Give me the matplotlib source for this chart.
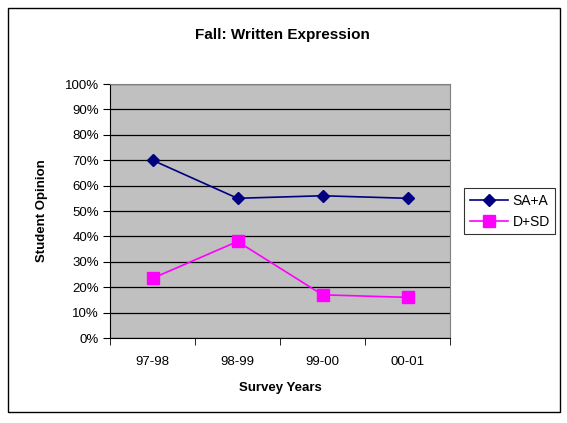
import matplotlib.pyplot as plt
from matplotlib.patches import Rectangle
from matplotlib.ticker import FixedLocator, PercentFormatter

# Dados
anos = ['97-98', '98-99', '99-00', '00-01']
sa_a = [70, 55, 56, 55]
d_sd = [23.5, 38, 17, 16]
yticks = list(range(0, 101, 10))

fig = plt.figure(figsize=(5.67, 4.23), dpi=100)
plt.rcParams['font.family'] = ['Liberation Sans', 'DejaVu Sans']

# Moldura externa
fig.patches.append(Rectangle((8 / 567, 1 - 412 / 423), 552 / 567, 404 / 423,
                             transform=fig.transFigure, fill=False,
                             edgecolor='black', linewidth=1))

ax = fig.add_axes([110 / 567, 1 - 338 / 423, 340 / 567, 254 / 423])
ax.set_facecolor('#C0C0C0')

x = list(range(len(anos)))
ax.plot(x, sa_a, color='#000080', marker='D', markersize=6.5, linewidth=1.2, label='SA+A')
ax.plot(x, d_sd, color='#FF00FF', marker='s', markersize=8.5, linewidth=1.2, label='D+SD')

ax.set_xlim(-0.5, len(anos) - 0.5)
ax.set_ylim(0, 100)
ax.set_yticks(yticks)
ax.yaxis.set_major_formatter(PercentFormatter(decimals=0))
ax.set_xticks(x)
ax.set_xticklabels(anos, fontsize=9.5)
ax.xaxis.set_minor_locator(FixedLocator([i - 0.5 for i in range(len(anos) + 1)]))
ax.tick_params(axis='x', which='major', length=0, pad=13)
ax.tick_params(axis='x', which='minor', length=5, direction='out', color='black')
ax.tick_params(axis='y', length=5, direction='out', labelsize=9.5, pad=3)

ax.grid(True, axis='y', color='black', linewidth=0.9)
ax.set_axisbelow(True)
for lado in ['top', 'right']:
    ax.spines[lado].set_color('#808080')
ax.spines['left'].set_color('black')
ax.spines['bottom'].set_color('black')

ax.set_xlabel('Survey Years', fontsize=9.5, fontweight='bold', labelpad=10)
ax.set_ylabel('Student Opinion', fontsize=9.5, fontweight='bold', labelpad=12)
fig.text(0.5 * (110 + 450) / 567 + 0.005, 1 - 35 / 423, 'Fall: Written Expression',
         ha='center', va='center', fontsize=11, fontweight='bold')

leg = fig.legend(loc='upper left', bbox_to_anchor=(464 / 567, 1 - 188 / 423),
                 fontsize=10, frameon=True, fancybox=False, edgecolor='black',
                 handlelength=2.8, borderpad=0.4, labelspacing=0.5, handletextpad=0.3,
                 borderaxespad=0)
leg.get_frame().set_linewidth(0.8)

plt.savefig('out.png', dpi=100)
